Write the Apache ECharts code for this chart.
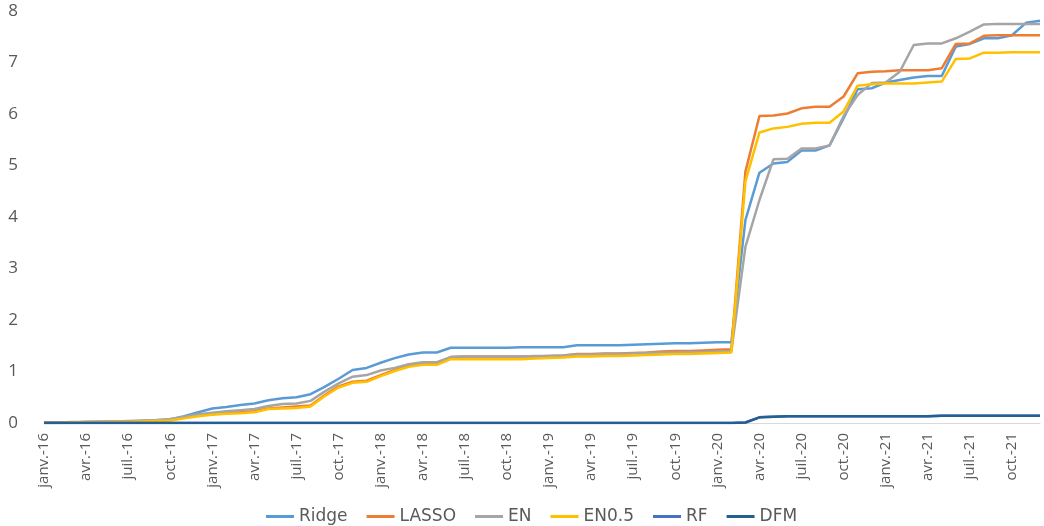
<!DOCTYPE html>
<html>
<head>
<meta charset="utf-8">
<script src="https://cdn.jsdelivr.net/npm/echarts@6/dist/echarts.min.js"></script>
<style>
    html, body { margin: 0; padding: 0; background: #ffffff; }
    #chart { width: 1044px; height: 526px; }
</style>
</head>
<body>
<div id="chart"></div>
<script>
// mois en français, axe mensuel janv.-16 -> déc.-21
const monthNames = ["janv.", "févr.", "mars", "avr.", "mai", "juin", "juil.", "août", "sept.", "oct.", "nov.", "déc."];
const years = ["16", "17", "18", "19", "20", "21"];

const ridge = [
    0.01, 0.01, 0.01, 0.02, 0.02, 0.03, 0.03, 0.04, 0.05, 0.07, 0.13, 0.21,
    0.28, 0.31, 0.35, 0.38, 0.44, 0.48, 0.50, 0.56, 0.70, 0.86, 1.03, 1.07,
    1.17, 1.26, 1.33, 1.37, 1.37, 1.46, 1.46, 1.46, 1.46, 1.46, 1.47, 1.47,
    1.47, 1.47, 1.51, 1.51, 1.51, 1.51, 1.52, 1.53, 1.54, 1.55, 1.55, 1.56,
    1.57, 1.57, 3.94, 4.86, 5.04, 5.07, 5.29, 5.29, 5.39, 5.92, 6.48, 6.50,
    6.61, 6.66, 6.71, 6.74, 6.74, 7.31, 7.36, 7.47, 7.47, 7.53, 7.77, 7.81,
];
const lasso = [
    0.01, 0.01, 0.01, 0.02, 0.02, 0.02, 0.03, 0.03, 0.04, 0.06, 0.10, 0.15,
    0.17, 0.20, 0.21, 0.23, 0.28, 0.30, 0.32, 0.34, 0.54, 0.71, 0.80, 0.82,
    0.93, 1.03, 1.11, 1.15, 1.16, 1.28, 1.29, 1.29, 1.29, 1.29, 1.29, 1.29,
    1.30, 1.31, 1.34, 1.34, 1.35, 1.35, 1.36, 1.37, 1.39, 1.40, 1.40, 1.41,
    1.42, 1.43, 4.88, 5.96, 5.97, 6.01, 6.11, 6.14, 6.14, 6.34, 6.79, 6.82,
    6.83, 6.85, 6.85, 6.85, 6.89, 7.36, 7.37, 7.52, 7.53, 7.53, 7.53, 7.53,
];
const en = [
    0.01, 0.01, 0.02, 0.02, 0.03, 0.03, 0.04, 0.05, 0.06, 0.08, 0.12, 0.17,
    0.20, 0.23, 0.25, 0.27, 0.33, 0.37, 0.38, 0.43, 0.61, 0.77, 0.90, 0.93,
    1.02, 1.07, 1.14, 1.18, 1.18, 1.28, 1.29, 1.29, 1.29, 1.29, 1.29, 1.30,
    1.30, 1.31, 1.33, 1.33, 1.34, 1.34, 1.35, 1.36, 1.37, 1.37, 1.38, 1.38,
    1.39, 1.40, 3.42, 4.33, 5.12, 5.13, 5.33, 5.33, 5.39, 5.96, 6.37, 6.60,
    6.61, 6.82, 7.34, 7.37, 7.37, 7.47, 7.60, 7.74, 7.75, 7.75, 7.75, 7.75,
];
const en05 = [
    0.00, 0.00, 0.01, 0.01, 0.01, 0.02, 0.02, 0.03, 0.04, 0.05, 0.09, 0.13,
    0.16, 0.18, 0.19, 0.21, 0.27, 0.28, 0.29, 0.32, 0.52, 0.69, 0.78, 0.80,
    0.91, 1.01, 1.09, 1.13, 1.13, 1.24, 1.24, 1.24, 1.24, 1.24, 1.24, 1.25,
    1.26, 1.27, 1.29, 1.29, 1.30, 1.30, 1.31, 1.32, 1.33, 1.34, 1.34, 1.35,
    1.36, 1.37, 4.69, 5.64, 5.72, 5.75, 5.81, 5.83, 5.83, 6.05, 6.55, 6.58,
    6.59, 6.59, 6.59, 6.61, 6.63, 7.07, 7.08, 7.19, 7.19, 7.20, 7.20, 7.20,
];
// RF est caché sous DFM sur le graphique
const rf = [
    0, 0, 0, 0, 0, 0, 0, 0, 0, 0, 0, 0,
    0, 0, 0, 0, 0, 0, 0, 0, 0, 0, 0, 0,
    0, 0, 0, 0, 0, 0, 0, 0, 0, 0, 0, 0,
    0, 0, 0, 0, 0, 0, 0, 0, 0, 0, 0, 0,
    0, 0, 0.01, 0.11, 0.12, 0.13, 0.13, 0.13, 0.13, 0.13, 0.13, 0.13,
    0.13, 0.13, 0.13, 0.13, 0.14, 0.14, 0.14, 0.14, 0.14, 0.14, 0.14, 0.14,
];
const dfm = [
    0, 0, 0, 0, 0, 0, 0, 0, 0, 0, 0, 0,
    0, 0, 0, 0, 0, 0, 0, 0, 0, 0, 0, 0,
    0, 0, 0, 0, 0, 0, 0, 0, 0, 0, 0, 0,
    0, 0, 0, 0, 0, 0, 0, 0, 0, 0, 0, 0,
    0, 0, 0.01, 0.11, 0.12, 0.13, 0.13, 0.13, 0.13, 0.13, 0.13, 0.13,
    0.13, 0.13, 0.13, 0.13, 0.14, 0.14, 0.14, 0.14, 0.14, 0.14, 0.14, 0.14,
];

const seriesNames = ["Ridge", "LASSO", "EN", "EN0.5", "RF", "DFM"];
const seriesColors = ["#5B9BD5", "#ED7D31", "#A5A5A5", "#FFC000", "#4472C4", "#255E91"];
const seriesData = [ridge, lasso, en, en05, rf, dfm];

// libellés de l'axe : "janv.-16", "févr.-16", ...
const categories = [];
years.forEach((y) => {
    monthNames.forEach((m) => {
        categories.push(m + "-" + y);
    });
});

const chart = echarts.init(document.getElementById("chart"), null, { renderer: "canvas" });

const option = {
    backgroundColor: "#ffffff",
    animation: false,
    color: seriesColors,
    textStyle: { fontFamily: "Open Sans" },
    grid: {
        left: 44,
        right: 4,
        top: 11,
        bottom: 103,
    },
    legend: {
        data: seriesNames,
        left: 261,
        top: 503,
        itemWidth: 28,
        itemHeight: 3,
        itemGap: 19,
        icon: "rect",
        textStyle: { color: "#595959", fontSize: 17, fontFamily: "DejaVu Sans" },
    },
    xAxis: {
        type: "category",
        data: categories,
        boundaryGap: false,
        axisLine: { show: true, lineStyle: { color: "#D9D9D9", width: 1 } },
        axisTick: { show: false },
        axisLabel: {
            interval: 2,
            rotate: 90,
            margin: 10,
            color: "#595959",
            fontSize: 15,
            fontFamily: "Open Sans",
        },
        splitLine: { show: false },
    },
    yAxis: {
        type: "value",
        min: 0,
        max: 8,
        interval: 1,
        axisLine: { show: false },
        axisTick: { show: false },
        splitLine: { show: false },
        axisLabel: {
            margin: 26,
            color: "#595959",
            fontSize: 17,
            fontFamily: "Open Sans",
        },
    },
    series: seriesNames.map((name, i) => ({
        name: name,
        type: "line",
        data: seriesData[i],
        showSymbol: false,
        symbol: "none",
        lineStyle: { width: 2.5, color: seriesColors[i] },
        itemStyle: { color: seriesColors[i] },
    })),
};

chart.setOption(option);
</script>
</body>
</html>
